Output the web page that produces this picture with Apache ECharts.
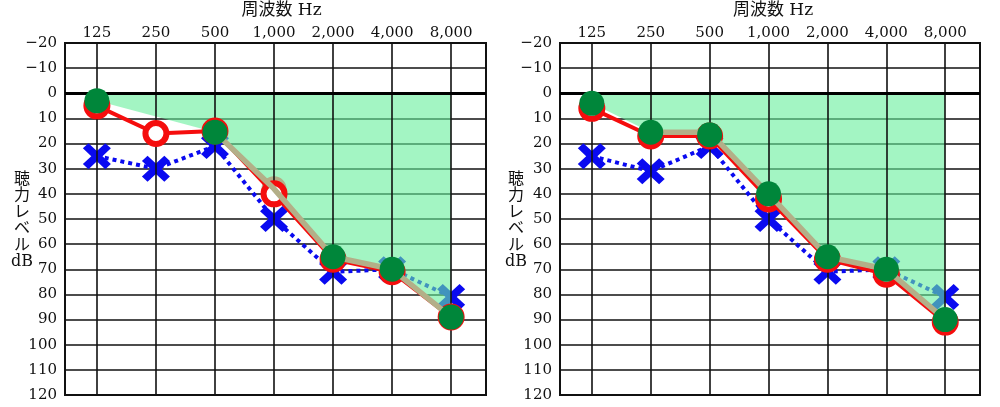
<!DOCTYPE html>
<html>
<head>
<meta charset="utf-8">
<script src="https://cdn.jsdelivr.net/npm/echarts@6/dist/echarts.min.js"></script>
<style>html,body{margin:0;padding:0;background:#fff}#c{width:1000px;height:407px}</style>
</head>
<body>
<div id="c"></div>
<script>
// ---- data ----
const freqLabels = ['125', '250', '500', '1,000', '2,000', '4,000', '8,000'];
const freqPos = [0, 1, 2, 3, 4, 5, 6];
const xTitle = '周波数 Hz';
const yTitle = '聴\n力\nレ\nベ\nル\ndB';

// left audiogram
const leftRed = [5, 16, 15, 40, 66, 71, 89];
const leftBlue = [25, 30, 21, 50, 71, 70, 81];
const leftGreenX = [0, 2, 4, 5, 6];
const leftGreen = [3, 15.5, 65, 70, 89];
const leftTanX = [2, 3, 4, 5, 6];
const leftTan = [15.5, 38, 65, 70, 89];
const leftAreaX = [0, 2, 3, 4, 5, 6];
const leftArea = [3, 15.5, 38, 65, 70, 89];
const leftRingX = [3];
const leftRing = [38];

// right audiogram
const rightRed = [6, 17, 17, 42, 66, 72, 91];
const rightBlue = [25, 31, 21, 50, 71, 70, 81];
const rightGreen = [4, 15.5, 16.5, 40, 65, 70, 90];
const rightTanX = [1, 2, 3, 4, 5, 6];
const rightTan = [15.5, 15.5, 40, 65, 70, 90];
const rightAreaX = [0, 1, 2, 3, 4, 5, 6];
const rightArea = [4, 15.5, 16.5, 40, 65, 70, 90];

// ---- styling ----
const RED = '#f50d0d', BLUE = '#0a0af0', GREEN = '#00863a', TAN = '#b3af88', MINT = '#66ee9b';
const SERIF = "'DejaVu Serif', 'Noto Sans CJK JP'";
const XPATH = 'path://M0,4 L4,0 L10,6 L16,0 L20,4 L14,10 L20,16 L16,20 L10,14 L4,20 L0,16 L6,10 Z';

const zip = (xs, ys) => xs.map((x, i) => [x, ys[i]]);

const grids = [
  { left: 65, top: 43, width: 421, height: 352 },
  { left: 560, top: 43, width: 420, height: 352 }
];

function xAxis(i, shift) {
  return {
    gridIndex: i, type: 'value', min: -0.54, max: 6.59, position: 'top',
    axisLine: { show: false }, axisTick: { show: false }, splitLine: { show: false },
    axisLabel: {
      customValues: freqPos, formatter: v => freqLabels[Math.round(v)],
      color: '#111', fontFamily: SERIF, fontSize: 15, margin: 2
    },
    name: xTitle, nameLocation: 'middle', nameGap: 32,
    nameTextStyle: { color: '#111', fontFamily: SERIF, fontSize: 17, verticalAlign: 'middle', padding: [0, 0, 0, shift] }
  };
}
function yAxis(i) {
  return {
    gridIndex: i, type: 'value', inverse: true, min: -20, max: 120, interval: 10,
    axisLine: { show: false }, axisTick: { show: false },
    splitLine: { lineStyle: { color: '#111', width: 1.6 } },
    axisLabel: {
      formatter: v => v < 0 ? '\u2212' + (-v) : String(v),
      color: '#111', fontFamily: SERIF, fontSize: 15, margin: 8
    }
  };
}
function yName(x) {
  return {
    type: 'text', x: x, y: 221, z: 10,
    style: {
      text: yTitle, fill: '#111', font: "16px " + SERIF, lineHeight: 16.5,
      align: 'center', verticalAlign: 'middle', textAlign: 'center', textVerticalAlign: 'middle'
    }
  };
}

function gridSeries(i) {
  return {
    type: 'line', xAxisIndex: i, yAxisIndex: i, data: [], z: 1, silent: true,
    markLine: {
      silent: true, symbol: ['none', 'none'], label: { show: false },
      lineStyle: { color: '#111', width: 1.6, type: 'solid' },
      data: freqPos.map(v => ({ xAxis: v }))
    }
  };
}
function zeroSeries(i, z) {
  return {
    type: 'line', xAxisIndex: i, yAxisIndex: i, data: [], z: z, silent: true,
    markLine: {
      silent: true, symbol: ['none', 'none'], label: { show: false },
      lineStyle: { color: '#000', width: 3, type: 'solid' },
      data: [{ yAxis: 0 }]
    }
  };
}
function blueSeries(i, vals) {
  return {
    type: 'line', xAxisIndex: i, yAxisIndex: i, z: 2, data: zip(freqPos, vals),
    lineStyle: { color: BLUE, width: 4, type: [4, 4] },
    symbol: XPATH, symbolSize: [28, 26], itemStyle: { color: BLUE }
  };
}
function areaSeries(i, xs, vals) {
  return {
    type: 'line', xAxisIndex: i, yAxisIndex: i, z: 3, data: zip(xs, vals),
    symbol: 'none', lineStyle: { width: 0, opacity: 0 },
    areaStyle: { color: MINT, opacity: 0.6, origin: 0 }
  };
}
function redSeries(i, vals) {
  return {
    type: 'line', xAxisIndex: i, yAxisIndex: i, z: 5, data: zip(freqPos, vals),
    lineStyle: { color: RED, width: 4 },
    symbol: 'circle', symbolSize: 21,
    itemStyle: { color: '#fff', borderColor: RED, borderWidth: 6 }
  };
}
function tanSeries(i, xs, vals) {
  return {
    type: 'line', xAxisIndex: i, yAxisIndex: i, z: 6, data: zip(xs, vals),
    symbol: 'none', lineStyle: { color: TAN, width: 5.5 }
  };
}
function greenSeries(i, xs, vals) {
  return {
    type: 'scatter', xAxisIndex: i, yAxisIndex: i, z: 7, data: zip(xs, vals),
    symbol: 'circle', symbolSize: 25, itemStyle: { color: GREEN, opacity: 1 }
  };
}

const chart = echarts.init(document.getElementById('c'), null, { renderer: 'canvas' });
chart.setOption({
  animation: false,
  backgroundColor: '#fff',
  grid: grids.map(g => Object.assign({ show: true, borderColor: '#111', borderWidth: 2, backgroundColor: 'transparent', containLabel: false, outerBoundsMode: 'none' }, g)),
  xAxis: [xAxis(0, 12), xAxis(1, 6)],
  yAxis: [yAxis(0), yAxis(1)],
  graphic: [yName(22), yName(516)],
  series: [
    gridSeries(0),
    blueSeries(0, leftBlue),
    areaSeries(0, leftAreaX, leftArea),
    zeroSeries(0, 4),
    {
      type: 'scatter', xAxisIndex: 0, yAxisIndex: 0, z: 4, data: zip(leftRingX, leftRing),
      symbol: 'circle', symbolSize: 20, itemStyle: { color: '#fff', borderColor: TAN, borderWidth: 5, opacity: 1 }
    },
    redSeries(0, leftRed),
    tanSeries(0, leftTanX, leftTan),
    greenSeries(0, leftGreenX, leftGreen),

    gridSeries(1),
    zeroSeries(1, 2),
    blueSeries(1, rightBlue),
    areaSeries(1, rightAreaX, rightArea),
    redSeries(1, rightRed),
    tanSeries(1, rightTanX, rightTan),
    greenSeries(1, freqPos, rightGreen)
  ]
});
</script>
</body>
</html>
